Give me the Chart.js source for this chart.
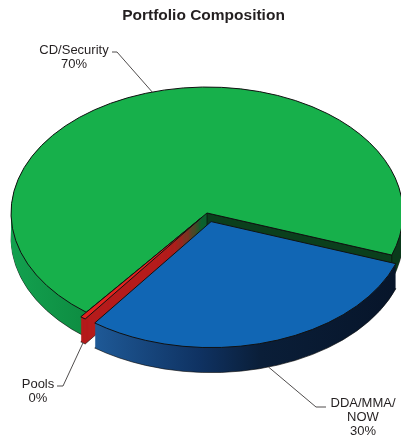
<!DOCTYPE html>
<html>
<head>
<meta charset="utf-8">
<script src="https://cdn.jsdelivr.net/npm/chart.js@4.4.1/dist/chart.umd.min.js"></script>
<style>
  html, body { margin: 0; padding: 0; background: #ffffff; overflow: hidden; }
  canvas { display: block; }
</style>
</head>
<body>
<canvas id="c" width="401" height="442"></canvas>
<script>
// ---- data ----
const categories = ['DDA/MMA/NOW', 'Pools', 'CD/Security'];
const values = [29.7, 0.45, 69.85];
const chartTitle = 'Portfolio Composition';

// ---- style ----
const topColors = ['#1166b4', '#e3231f', '#17b04b'];
const explode = [14, 9, 0];
const GEO = { cx: 207, cy: 213, rx: 196, ry: 126, depth: 25 };
const FONT = "'Liberation Sans', Arial, sans-serif";
const TEXT = '#231f20';
const labelLayout = [
  { cx: 363, cy: 403, bottom: true,  elbow: [[316, 407], [326, 407]] },
  { cx: 38,  cy: 384, bottom: true,  elbow: [[63, 386], [57, 386]] },
  { cx: 74,  cy: 50,  bottom: false, elbow: [[117, 52], [112, 52]] }
];

function sideFill(ctx, i) {
  let g;
  if (i === 0) {
    g = ctx.createLinearGradient(90, 0, 395, 0);
    g.addColorStop(0, '#1f5b99');
    g.addColorStop(0.36, '#0f3262');
    g.addColorStop(0.56, '#0a1e38');
    g.addColorStop(1, '#07152a');
  } else if (i === 1) {
    g = '#b51b1b';
  } else {
    g = ctx.createLinearGradient(10, 0, 395, 0);
    g.addColorStop(0, '#13a14f');
    g.addColorStop(0.22, '#0d8a40');
    g.addColorStop(0.55, '#0b5a2a');
    g.addColorStop(1, '#0a3a1b');
  }
  return g;
}

function wrapLabel(s) {
  const parts = s.split('/');
  if (parts.length > 2) {
    const k = s.lastIndexOf('/');
    return [s.slice(0, k + 1), s.slice(k + 1)];
  }
  return [s];
}

function arcProps(el) {
  return el.getProps(['x', 'y', 'startAngle', 'endAngle', 'outerRadius'], true);
}

function slicePath(ctx, el, i, dz) {
  const p = arcProps(el);
  const R = p.outerRadius;
  const mid = (p.startAngle + p.endAngle) / 2;
  const off = explode[i];
  ctx.save();
  ctx.translate(GEO.cx + Math.cos(mid) * off, GEO.cy + Math.sin(mid) * off * GEO.ry / GEO.rx + dz);
  ctx.scale(GEO.rx / R, GEO.ry / R);
  ctx.beginPath();
  ctx.moveTo(0, 0);
  ctx.arc(0, 0, R, p.startAngle, p.endAngle);
  ctx.closePath();
  ctx.restore();
}

function edgePoint(el, i, angle, dz) {
  const p = arcProps(el);
  const mid = (p.startAngle + p.endAngle) / 2;
  const off = explode[i];
  return [
    GEO.cx + Math.cos(mid) * off + Math.cos(angle) * GEO.rx,
    GEO.cy + Math.sin(mid) * off * GEO.ry / GEO.rx + Math.sin(angle) * GEO.ry + dz
  ];
}

const pie3d = {
  id: 'pie3d',
  beforeDatasetsDraw(chart) {
    const ctx = chart.ctx;
    const arcs = chart.getDatasetMeta(0).data;
    const order = [2, 1, 0]; // back to front
    ctx.save();
    ctx.lineJoin = 'round';
    for (const i of order) {
      const el = arcs[i];
      const fill = sideFill(ctx, i);
      slicePath(ctx, el, i, GEO.depth);
      ctx.fillStyle = fill;
      ctx.fill();
      ctx.strokeStyle = 'rgba(10,10,10,0.8)';
      ctx.lineWidth = 0.8;
      ctx.stroke();
      for (let dz = GEO.depth - 1; dz >= 1; dz--) {
        slicePath(ctx, el, i, dz);
        ctx.fillStyle = fill;
        ctx.fill();
      }
      if (i === 2) {
        const p = arcProps(el);
        const mid = (p.startAngle + p.endAngle) / 2;
        const c0 = [GEO.cx + Math.cos(mid) * explode[i], GEO.cy + Math.sin(mid) * explode[i] * GEO.ry / GEO.rx];
        const e0 = edgePoint(el, i, p.endAngle, 0);
        ctx.beginPath();
        ctx.moveTo(c0[0], c0[1]);
        ctx.lineTo(e0[0], e0[1]);
        ctx.lineTo(e0[0], e0[1] + GEO.depth);
        ctx.lineTo(c0[0], c0[1] + GEO.depth);
        ctx.closePath();
        ctx.fillStyle = '#0b3f1d';
        ctx.fill();
        ctx.strokeStyle = 'rgba(10,10,10,0.8)';
        ctx.lineWidth = 0.8;
        ctx.stroke();
      }
    }
    for (const i of order) {
      slicePath(ctx, arcs[i], i, 0);
      ctx.fillStyle = topColors[i];
      ctx.fill();
      ctx.strokeStyle = '#111111';
      ctx.lineWidth = 1;
      ctx.stroke();
    }
    ctx.restore();
    return false;
  },
  afterDraw(chart) {
    const ctx = chart.ctx;
    const arcs = chart.getDatasetMeta(0).data;
    const total = values.reduce((a, b) => a + b, 0);
    ctx.save();
    ctx.strokeStyle = '#231f20';
    ctx.lineWidth = 0.8;
    ctx.fillStyle = TEXT;
    ctx.font = '13px ' + FONT;
    ctx.textAlign = 'center';
    ctx.textBaseline = 'middle';
    arcs.forEach((el, i) => {
      const L = labelLayout[i];
      const p = arcProps(el);
      const mid = (p.startAngle + p.endAngle) / 2;
      const a = edgePoint(el, i, mid, L.bottom ? GEO.depth : 0);
      ctx.beginPath();
      ctx.moveTo(a[0], a[1]);
      ctx.lineTo(L.elbow[0][0], L.elbow[0][1]);
      ctx.lineTo(L.elbow[1][0], L.elbow[1][1]);
      ctx.stroke();
      const lines = wrapLabel(categories[i]);
      lines.push(Math.round(values[i] / total * 100) + '%');
      lines.forEach((t, k) => ctx.fillText(t, L.cx, L.cy + k * 14));
    });
    ctx.restore();
  }
};

new Chart(document.getElementById('c'), {
  type: 'pie',
  data: {
    labels: categories,
    datasets: [{ data: values, backgroundColor: topColors, borderWidth: 0 }]
  },
  options: {
    responsive: false,
    animation: false,
    rotation: 109.5,
    layout: { padding: { left: 6, top: 0 } },
    plugins: {
      legend: { display: false },
      tooltip: { enabled: false },
      title: {
        display: true,
        text: chartTitle,
        color: TEXT,
        font: { family: FONT, size: 15.5, weight: 'bold' },
        padding: { top: 6, bottom: 6 }
      }
    }
  },
  plugins: [pie3d]
});
</script>
</body>
</html>
